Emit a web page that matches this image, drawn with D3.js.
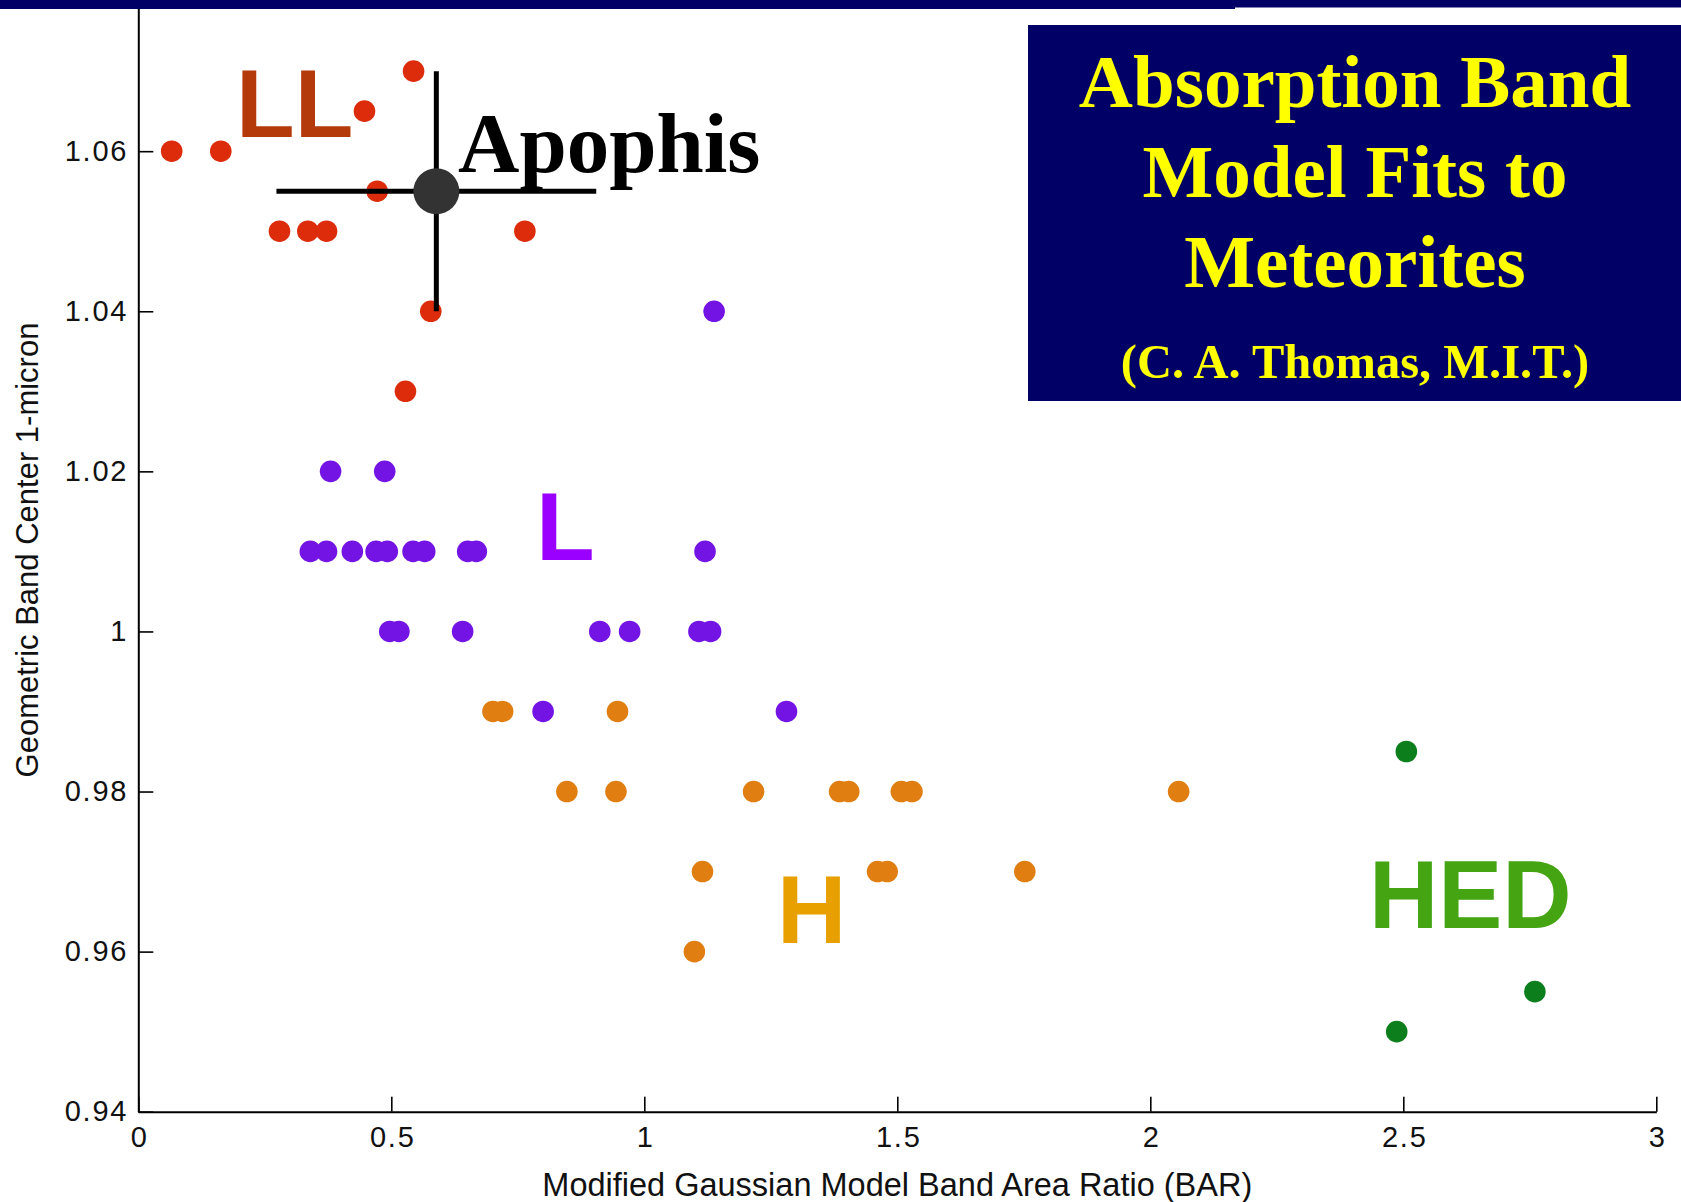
<!DOCTYPE html>
<html>
<head>
<meta charset="utf-8">
<script src="https://cdn.jsdelivr.net/npm/d3@7"></script>
<style>
  body { margin: 0; background: #fff; }
  svg { display: block; }
</style>
</head>
<body>
<svg id="chart" width="1681" height="1202"></svg>
<script>
// Axis ticks
const xTicks = [0, 0.5, 1, 1.5, 2, 2.5, 3];
const xTickLabels = ["0", "0.5", "1", "1.5", "2", "2.5", "3"];
const yTicks = [0.94, 0.96, 0.98, 1, 1.02, 1.04, 1.06];
const yTickLabels = ["0.94", "0.96", "0.98", "1", "1.02", "1.04", "1.06"];

// LL chondrites: band area ratio / band center
const llBar    = [0.066, 0.163, 0.447, 0.544, 0.472, 0.279, 0.335, 0.372, 0.764, 0.578, 0.528];
const llCenter = [1.06, 1.06, 1.065, 1.07, 1.055, 1.05, 1.05, 1.05, 1.05, 1.04, 1.03];

// L chondrites
const lBar    = [1.138, 0.380, 0.487,
                 0.340, 0.372, 0.423, 0.470, 0.492, 0.543, 0.566, 0.651, 0.668, 1.120,
                 0.497, 0.515, 0.641, 0.912, 0.971, 1.108, 1.131,
                 0.800, 1.281];
const lCenter = [1.04, 1.02, 1.02,
                 1.01, 1.01, 1.01, 1.01, 1.01, 1.01, 1.01, 1.01, 1.01, 1.01,
                 1.00, 1.00, 1.00, 1.00, 1.00, 1.00, 1.00,
                 0.99, 0.99];

// H chondrites
const hBar    = [0.701, 0.720, 0.947,
                 0.847, 0.944, 1.216, 1.386, 1.404, 1.508, 1.529, 2.056,
                 1.115, 1.461, 1.480, 1.752,
                 1.099];
const hCenter = [0.99, 0.99, 0.99,
                 0.98, 0.98, 0.98, 0.98, 0.98, 0.98, 0.98, 0.98,
                 0.97, 0.97, 0.97, 0.97,
                 0.96];

// HED achondrites
const hedBar    = [2.506, 2.487, 2.760];
const hedCenter = [0.985, 0.950, 0.955];

// Apophis with its uncertainty
const apophisBar = [0.589];
const apophisCenter = [1.055];
const apophisBarErr = [0.316];
const apophisCenterErr = [0.015];

const groups = [
  { name: "LL",  xs: llBar,  ys: llCenter,  color: "#dc2c0c" },
  { name: "L",   xs: lBar,   ys: lCenter,   color: "#7414e4" },
  { name: "H",   xs: hBar,   ys: hCenter,   color: "#e07e12" },
  { name: "HED", xs: hedBar, ys: hedCenter, color: "#0c7e1c" }
];

const svg = d3.select("#chart");
const W = 1681, H = 1202;

svg.append("rect").attr("width", W).attr("height", H).attr("fill", "#fff");

const x = d3.scaleLinear().domain([0, 3]).range([138.3, 1656.3]);
const y = d3.scaleLinear().domain([0.94, 1.08]).range([1111.7, -8.9]);
const yBottom = 1111.7;

// Axes (ticks point inward)
const xAxis = d3.axisBottom(x)
  .tickValues(xTicks)
  .tickFormat((d, i) => xTickLabels[i])
  .tickSizeInner(-15).tickSizeOuter(0).tickPadding(15);
const yAxis = d3.axisLeft(y)
  .tickValues(yTicks)
  .tickFormat((d, i) => yTickLabels[i])
  .tickSizeInner(-15).tickSizeOuter(0).tickPadding(10);

const gx = svg.append("g").attr("transform", `translate(0,${yBottom})`).call(xAxis);
const gy = svg.append("g").attr("transform", `translate(${x(0)},0)`).call(yAxis);

[gx, gy].forEach(g => {
  g.select(".domain").attr("stroke", "#000").attr("stroke-width", 2);
  g.selectAll(".tick line").attr("stroke", "#000").attr("stroke-width", 1.6);
  g.selectAll(".tick text")
    .attr("fill", "#111")
    .style("font-family", "'Liberation Sans', Arial, sans-serif")
    .style("font-size", "29px")
    .style("letter-spacing", "1.8px");
});
// keep x tick labels centred despite the letter spacing
gx.selectAll(".tick text").attr("dx", "1px");

// Axis titles
svg.append("text")
  .attr("x", (x(0) + x(3)) / 2).attr("y", 1196)
  .attr("text-anchor", "middle")
  .style("font-family", "'Liberation Sans', Arial, sans-serif")
  .style("font-size", "32.5px")
  .attr("fill", "#111")
  .text("Modified Gaussian Model Band Area Ratio (BAR)");

svg.append("text")
  .attr("transform", "translate(38,550) rotate(-90)")
  .attr("text-anchor", "middle")
  .style("font-family", "'Liberation Sans', Arial, sans-serif")
  .style("font-size", "31px")
  .attr("fill", "#111")
  .text("Geometric Band Center 1-micron");

// Meteorite points
groups.forEach(g => {
  svg.append("g").selectAll("circle")
    .data(g.xs.map((v, i) => [v, g.ys[i]]))
    .join("circle")
    .attr("cx", d => x(d[0]))
    .attr("cy", d => y(d[1]))
    .attr("r", 10.8)
    .attr("fill", g.color);
});

// Apophis point with error bars
const ap = svg.append("g");
apophisBar.forEach((bx, i) => {
  const by = apophisCenter[i];
  ap.append("line")
    .attr("x1", x(bx - apophisBarErr[i])).attr("x2", x(bx + apophisBarErr[i]))
    .attr("y1", y(by)).attr("y2", y(by))
    .attr("stroke", "#000").attr("stroke-width", 5);
  ap.append("line")
    .attr("x1", x(bx)).attr("x2", x(bx))
    .attr("y1", y(by + apophisCenterErr[i])).attr("y2", y(by - apophisCenterErr[i]))
    .attr("stroke", "#000").attr("stroke-width", 5);
  ap.append("circle")
    .attr("cx", x(bx)).attr("cy", y(by)).attr("r", 23)
    .attr("fill", "#333");
});

svg.append("text")
  .attr("x", 458).attr("y", 172)
  .style("font-family", "'Liberation Serif', 'Times New Roman', serif")
  .style("font-weight", "bold").style("font-size", "85px")
  .attr("fill", "#000")
  .text("Apophis");

// Class labels
const classLabels = [
  { text: "LL",  x: 236,  y: 137, color: "#b53a0b" },
  { text: "L",   x: 536,  y: 560, color: "#9a00ff" },
  { text: "H",   x: 777,  y: 943, color: "#e8a000" },
  { text: "HED", x: 1369, y: 928, color: "#44a412" }
];
svg.append("g").selectAll("text")
  .data(classLabels)
  .join("text")
  .attr("x", d => d.x).attr("y", d => d.y)
  .attr("fill", d => d.color)
  .style("font-family", "'Liberation Sans', Arial, sans-serif")
  .style("font-weight", "bold").style("font-size", "96px")
  .text(d => d.text);

// Top banner strip
svg.append("rect").attr("x", 0).attr("y", 0).attr("width", 1235).attr("height", 9).attr("fill", "#000066");
svg.append("rect").attr("x", 1235).attr("y", 0).attr("width", W - 1235).attr("height", 7.5).attr("fill", "#000066");

// Title box
svg.append("rect")
  .attr("x", 1028).attr("y", 25).attr("width", W - 1028).attr("height", 376)
  .attr("fill", "#000066");

const titleLines = [
  { text: "Absorption Band", y: 107, size: 75 },
  { text: "Model Fits to",   y: 197, size: 75 },
  { text: "Meteorites",      y: 287, size: 75 },
  { text: "(C. A. Thomas, M.I.T.)", y: 378, size: 48.5 }
];
svg.append("g").selectAll("text")
  .data(titleLines)
  .join("text")
  .attr("x", 1355).attr("y", d => d.y)
  .attr("text-anchor", "middle")
  .attr("fill", "#ffff00")
  .style("font-family", "'Liberation Serif', 'Times New Roman', serif")
  .style("font-weight", "bold")
  .style("font-size", d => d.size + "px")
  .text(d => d.text);
</script>
</body>
</html>
